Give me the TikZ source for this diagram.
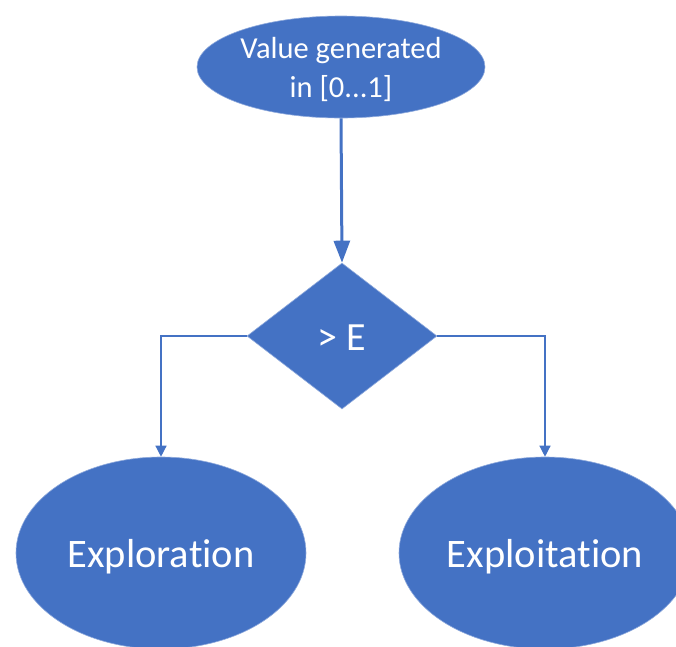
\documentclass[tikz,border=0pt]{standalone}
\usepackage{fontspec}
\setmainfont[RawFeature={-liga;-dlig;-calt}]{Carlito}
\usetikzlibrary{shapes.geometric,arrows.meta}
\definecolor{ofblue}{HTML}{4472C4}
\begin{document}
\begin{tikzpicture}[x=1pt,y=-1pt,
  blob/.style={ellipse,fill=ofblue,draw=ofblue!60!white,line width=0.6pt,inner sep=0pt,text=white},
  decide/.style={diamond,fill=ofblue,draw=ofblue!60!white,line width=0.6pt,inner sep=0pt,text=white,minimum width=190pt,minimum height=146pt},
  mainarrow/.style={draw=ofblue,line width=3pt,-{Triangle[width=16pt,length=22pt]}},
  sidearrow/.style={draw=ofblue,line width=1.3pt,-{Triangle[width=11pt,length=11pt]}}]
\useasboundingbox (0,0) rectangle (676,646);
\clip (0,0) rectangle (676,646);
\node[blob,minimum width=288pt,minimum height=102pt,font=\fontsize{30.5}{39}\selectfont,align=center] (t) at (341,67) {\raisebox{-2pt}[\height][\depth]{Value generated}\\\raisebox{-2pt}[\height][\depth]{in [0...1]}};
\node[decide,font=\fontsize{40}{46}\selectfont] (d) at (342,336) {\raisebox{-2pt}[\height][\depth]{> E}};
\node[blob,minimum width=290pt,minimum height=192pt,font=\fontsize{40.5}{46}\selectfont] (l) at (161,553) {\raisebox{-4pt}[\height][\depth]{Explorat\kern0pt ion}};
\node[blob,minimum width=292pt,minimum height=192pt,font=\fontsize{40.5}{46}\selectfont] (r) at (545,553) {\raisebox{-4pt}[\height][\depth]{Exploitat\kern0pt ion}};
\draw[mainarrow] (t.south) -- (d.north);
\draw[sidearrow] (d.west) -| (l.north);
\draw[sidearrow] (d.east) -| (r.north);
\end{tikzpicture}
\end{document}
